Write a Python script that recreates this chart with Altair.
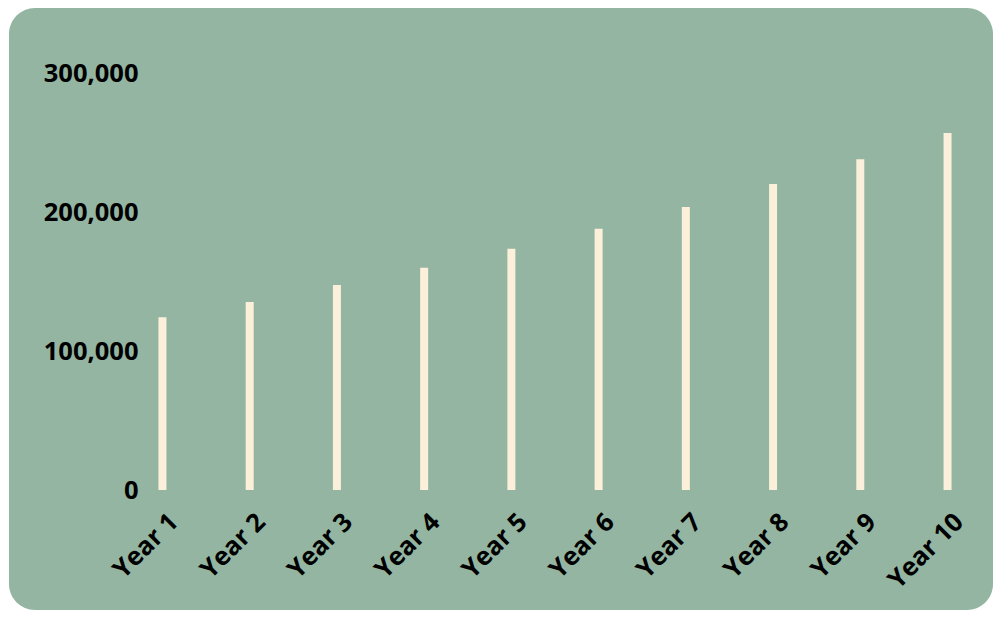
import altair as alt
import pandas as pd

years = ["Year 1", "Year 2", "Year 3", "Year 4", "Year 5",
         "Year 6", "Year 7", "Year 8", "Year 9", "Year 10"]
values = [124200, 135300, 147500, 159900, 173600,
          188000, 203600, 220100, 237900, 256800]
y_ticks = [0, 100000, 200000, 300000]

df = pd.DataFrame({"year": years, "value": values})

BG = "#93b5a1"
BAR = "#fdf0da"
FONT = "Open Sans"
FS = 25.5

W, H = 820, 417
PL, PT, PR, PB = 137, 65, 28, 120

bg = alt.Chart(alt.Data(values=[{}])).mark_rect(
    color=BG, cornerRadius=26
).encode(
    x=alt.value(-PL + 1), x2=alt.value(W + PR),
    y=alt.value(-PT), y2=alt.value(H + PB),
)

bars = alt.Chart(df).mark_bar(color=BAR, size=8).encode(
    x=alt.X("year:N", sort=years, title=None,
            scale=alt.Scale(paddingInner=0.6, paddingOuter=0),
            axis=alt.Axis(labelAngle=-45, domain=False, ticks=False,
                          labelFont=FONT, labelFontWeight="bold",
                          labelFontSize=FS, labelColor="#000000",
                          labelPadding=19, labelOffset=3, zindex=1)),
    y=alt.Y("value:Q", title=None,
            scale=alt.Scale(domain=[0, 300000], nice=False, zero=True),
            axis=alt.Axis(values=y_ticks, format=",d", grid=False,
                          domain=False, ticks=False, labelFlush=False,
                          labelFont=FONT, labelFontWeight="bold",
                          labelFontSize=FS, labelColor="#000000",
                          labelPadding=7, zindex=1)),
)

chart = alt.layer(bg, bars).properties(
    width=W, height=H,
    autosize=alt.AutoSizeParams(type="none"),
    padding={"left": PL, "top": PT, "right": PR, "bottom": PB},
    background="#ffffff",
).configure_view(stroke=None)

chart.save("out.html", embed_options={"renderer": "svg", "actions": False})
